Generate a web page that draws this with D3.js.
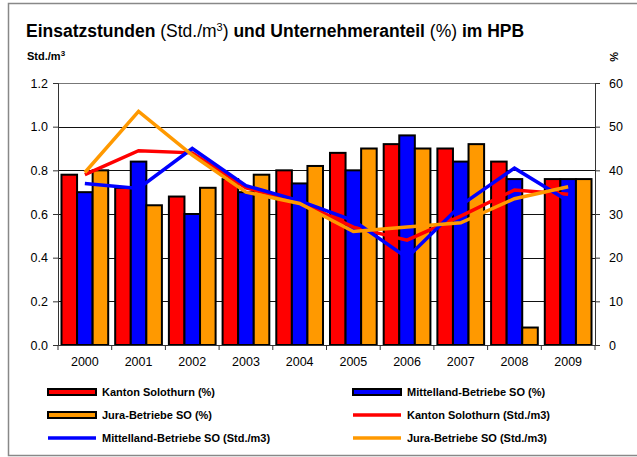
<!DOCTYPE html>
<html>
<head>
<meta charset="utf-8">
<script src="https://cdn.jsdelivr.net/npm/d3@7"></script>
<style>
  body { margin: 0; background: #fff; }
  text { font-family: "Liberation Sans", Arial, sans-serif; }
</style>
</head>
<body>
<div id="chartdiv"></div>
<script>
/* --- Data --- */
let years = ["2000","2001","2002","2003","2004","2005","2006","2007","2008","2009"]

// Unternehmeranteil (%), right axis
let kantonPct     = [39, 36, 34, 38, 40, 44, 46, 45, 42, 38]
let mittellandPct = [35, 42, 30, 35, 37, 40, 48, 42, 38, 38]
let juraPct       = [40, 32, 36, 39, 41, 45, 45, 46, 4, 38]

// Einsatzstunden (Std./m3), left axis
let kantonStd     = [0.78, 0.89, 0.88, 0.72, 0.655, 0.54, 0.48, 0.59, 0.71, 0.69]
let mittellandStd = [0.74, 0.717, 0.90, 0.73, 0.66, 0.57, 0.40, 0.64, 0.81, 0.66]
let juraStd       = [0.79, 1.07, 0.87, 0.70, 0.648, 0.52, 0.54, 0.56, 0.67, 0.725]

let leftTicks  = [0, 0.2, 0.4, 0.6, 0.8, 1.0, 1.2]
let rightTicks = [0, 10, 20, 30, 40, 50, 60]
/* ------------ */

let width = 637
let height = 457
let plotLeft = 58
let plotRight = 595
let plotTop = 83
let plotBottom = 345

let red = "#ff0000", blue = "#0000ff", orange = "#ff9900"

let svg = d3.select('#chartdiv')
   .append('svg')
   .attr("width", width)
   .attr("height", height)

// outer frame
svg.append("rect")
   .attr("x", 8.5).attr("y", 3.5)
   .attr("width", 640).attr("height", 452)
   .attr("fill", "white")
   .attr("stroke", "#888").attr("stroke-width", 1.5)

// title
let title = svg.append("text")
   .attr("x", 26).attr("y", 37)
   .attr("font-size", 17.5)
   .attr("fill", "#000")
title.append("tspan").attr("font-weight", "bold").text("Einsatzstunden ")
title.append("tspan").text("(Std./m")
title.append("tspan").attr("font-size", 11).attr("dy", -6).text("3")
title.append("tspan").attr("dy", 6).text(") ")
title.append("tspan").attr("font-weight", "bold").text("und Unternehmeranteil ")
title.append("tspan").text("(%) ")
title.append("tspan").attr("font-weight", "bold").text("im HPB")

let unit = svg.append("text")
   .attr("x", 27).attr("y", 60)
   .attr("font-size", 11).attr("font-weight", "bold")
unit.append("tspan").text("Std./m")
unit.append("tspan").attr("font-size", 8).attr("dy", -4).text("3")

svg.append("text")
   .attr("transform", "translate(610,52) rotate(90)")
   .attr("font-size", 11).attr("font-weight", "bold")
   .text("%")

// scales
let x0 = d3.scaleBand()
   .domain(years)
   .range([plotLeft, plotRight])
   .paddingInner(0.13)
   .paddingOuter(0.065)
let series = ["k", "m", "j"]
let x1 = d3.scaleBand()
   .domain(series)
   .range([0, x0.bandwidth()])
let yLeft = d3.scaleLinear().domain([0, 1.2]).range([plotBottom, plotTop])
let yRight = d3.scaleLinear().domain([0, 60]).range([plotBottom, plotTop])

// gridlines
svg.append("g")
   .selectAll("line")
   .data(leftTicks.slice(1))
   .join("line")
   .attr("x1", plotLeft).attr("x2", plotRight)
   .attr("y1", d => Math.round(yLeft(d)) + 0.5)
   .attr("y2", d => Math.round(yLeft(d)) + 0.5)
   .attr("stroke", d => d == 1.2 ? "#777" : "#111")
   .attr("stroke-width", 1)

// bars
let barColors = { k: red, m: blue, j: orange }
let pctSeries = { k: kantonPct, m: mittellandPct, j: juraPct }
years.forEach((yr, i) => {
   let g = svg.append("g").attr("transform", `translate(${x0(yr)},0)`)
   series.forEach(s => {
      g.append("rect")
         .attr("x", x1(s))
         .attr("y", yRight(pctSeries[s][i]))
         .attr("width", x1.bandwidth())
         .attr("height", plotBottom - yRight(pctSeries[s][i]))
         .attr("fill", barColors[s])
         .attr("stroke", "#000")
         .attr("stroke-width", 2)
   })
})

// lines
let cx = d => x0(d) + x0.bandwidth() / 2
let line = d3.line()
   .x((d, i) => cx(years[i]))
   .y(d => yLeft(d))
let lineData = [[kantonStd, red], [mittellandStd, blue], [juraStd, orange]]
lineData.forEach(([vals, col]) => {
   svg.append("path")
      .datum(vals)
      .attr("d", line)
      .attr("fill", "none")
      .attr("stroke", col)
      .attr("stroke-width", 3.5)
      .attr("stroke-linejoin", "miter")
})

// axes
let leftAxis = d3.axisLeft(yLeft)
   .tickValues(leftTicks)
   .tickFormat(d3.format(".1f"))
   .tickSize(5).tickPadding(5)
svg.append("g")
   .attr("transform", `translate(${plotLeft},0)`)
   .call(leftAxis)
   .call(g => g.selectAll("text").attr("font-size", 12.5).attr("fill", "#000").attr("font-family", "Liberation Sans, Arial"))
   .call(g => g.selectAll("line, path").attr("stroke", "#333"))

let rightAxis = d3.axisRight(yRight)
   .tickValues(rightTicks)
   .tickSize(5).tickPadding(9)
svg.append("g")
   .attr("transform", `translate(${plotRight},0)`)
   .call(rightAxis)
   .call(g => g.selectAll("text").attr("font-size", 12.5).attr("fill", "#000").attr("font-family", "Liberation Sans, Arial"))
   .call(g => g.selectAll("line, path").attr("stroke", "#333"))

let bottomAxis = d3.axisBottom(x0)
   .tickSize(0).tickPadding(12)
svg.append("g")
   .attr("transform", `translate(0,${plotBottom})`)
   .call(bottomAxis)
   .call(g => g.select(".domain").attr("stroke", "#333"))
   .call(g => g.selectAll("text").attr("font-size", 12.5).attr("fill", "#000").attr("font-family", "Liberation Sans, Arial"))
// category boundary ticks
svg.append("g")
   .selectAll("line")
   .data(years.concat(["end"]))
   .join("line")
   .attr("x1", (d, i) => plotLeft + i * x0.step())
   .attr("x2", (d, i) => plotLeft + i * x0.step())
   .attr("y1", plotBottom).attr("y2", plotBottom + 5)
   .attr("stroke", "#333")

// legend
let legendItems = [
   { label: "Kanton Solothurn (%)", color: red, type: "bar" },
   { label: "Mittelland-Betriebe SO (%)", color: blue, type: "bar" },
   { label: "Jura-Betriebe SO (%)", color: orange, type: "bar" },
   { label: "Kanton Solothurn (Std./m3)", color: red, type: "line" },
   { label: "Mittelland-Betriebe SO (Std./m3)", color: blue, type: "line" },
   { label: "Jura-Betriebe SO (Std./m3)", color: orange, type: "line" }
]
let legendCols = [48, 353]
let legendRows = [392, 415, 438]
legendItems.forEach((item, i) => {
   let lx = legendCols[i % 2]
   let ly = legendRows[Math.floor(i / 2)]
   let g = svg.append("g")
   if (item.type == "bar") {
      g.append("rect")
         .attr("x", lx).attr("y", ly - 3)
         .attr("width", 48).attr("height", 6)
         .attr("fill", item.color)
         .attr("stroke", "#000").attr("stroke-width", 2)
   } else {
      g.append("line")
         .attr("x1", lx).attr("x2", lx + 48)
         .attr("y1", ly).attr("y2", ly)
         .attr("stroke", item.color).attr("stroke-width", 3.5)
   }
   g.append("text")
      .attr("x", lx + 54).attr("y", ly + 4)
      .attr("font-size", 11).attr("font-weight", "bold")
      .text(item.label)
})
</script>
</body>
</html>
